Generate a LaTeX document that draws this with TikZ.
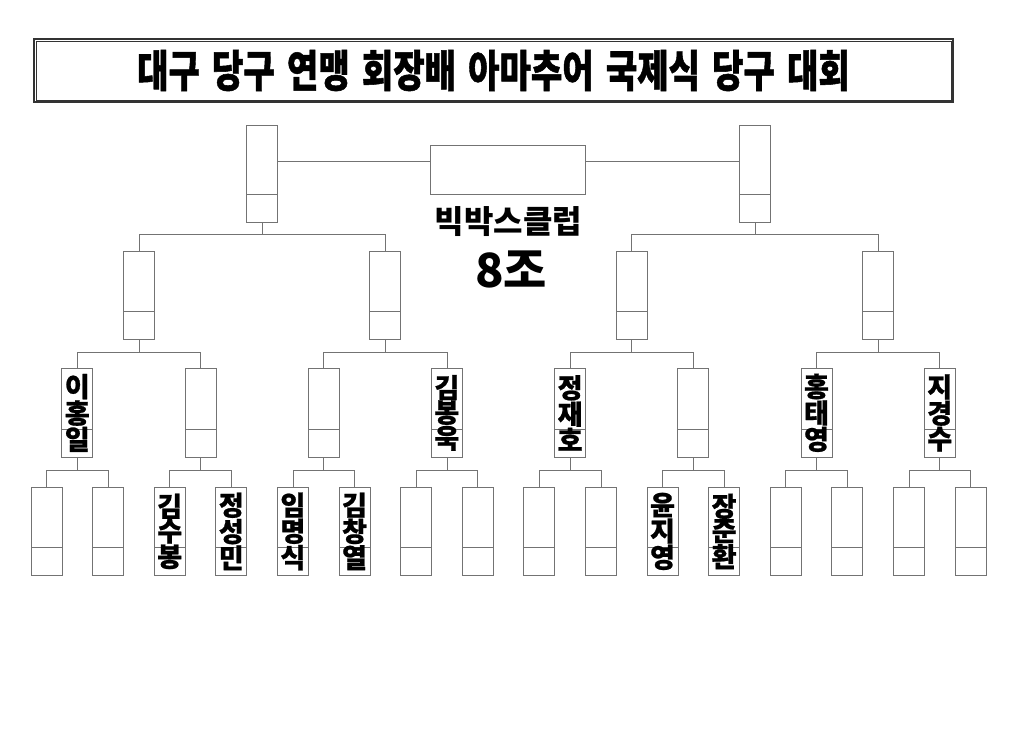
\documentclass[tikz,border=0pt]{standalone}
\usepackage{graphicx}
\usepackage{fontspec}
\newfontfamily\kofont{Noto Sans CJK KR}
\newfontfamily\kotitle{Noto Sans CJK KR}[FakeBold=1.2]
\newfontfamily\koname{Noto Sans CJK KR}[FakeBold=0.8]
\definecolor{linegray}{gray}{0.45}
\definecolor{framegray}{gray}{0.2}
\tikzset{
    wire/.style={linegray, line width=0.8pt},
    slot/.style={draw=linegray, line width=0.8pt, minimum width=31pt, inner sep=0pt,
        anchor=north, align=center,
        font=\koname\bfseries\fontsize{27}{24.5}\selectfont,
        path picture={\draw[wire] ([yshift=28pt]path picture bounding box.south west)
            -- ([yshift=28pt]path picture bounding box.south east);}},
    slotlow/.style={slot, minimum height=88pt},
    slothigh/.style={slot, minimum height=97pt}
}
\begin{document}
\begin{tikzpicture}[x=1pt, y=-1pt]
        \useasboundingbox (0,0) rectangle (1024,746);

        \node[draw=framegray, line width=2.6pt, minimum width=919pt, minimum height=63pt] (title) at (493.5,70.5)
            {\scalebox{0.775}[1]{\kotitle\bfseries\fontsize{44}{44}\selectfont\spaceskip=15.7pt
            대구 당구 연맹 회장배 아마추어 국제식 당구 대회}};
        \draw[framegray, line width=0.9pt] ([shift={(3.4pt,-3.4pt)}]title.north west)
            rectangle ([shift={(-3pt,3pt)}]title.south east);

        \foreach \i/\nm in {0/{},1/{},2/{김\\수\\봉},3/{정\\성\\민},4/{임\\명\\식},5/{김\\창\\열},
            6/{},7/{},8/{},9/{},10/{윤\\지\\영},11/{장\\준\\환},12/{},13/{},14/{},15/{}} {
            \node[slotlow] (l\i) at ({46.5+61.6*\i},487) {\nm};
        }
        \foreach \i/\nm in {0/{이\\홍\\일},1/{},2/{},3/{김\\봉\\욱},4/{정\\재\\호},5/{},6/{홍\\태\\영},7/{지\\경\\수}} {
            \node[slotlow, minimum height=89pt] (r\i) at ({77.3+123.2*\i},368) {\nm};
        }
        \foreach \i in {0,...,3} {
            \node[slotlow] (q\i) at ({138.9+246.4*\i},251) {};
        }
        \foreach \i in {0,1} {
            \node[slothigh] (s\i) at ({262.1+492.8*\i},125) {};
        }
        \node[draw=linegray, line width=0.8pt, minimum width=155pt, minimum height=49pt] (final) at (507.5,169.5) {};

        \foreach \i in {0,...,7} {
            \pgfmathtruncatemacro\a{2*\i}
            \pgfmathtruncatemacro\b{2*\i+1}
            \draw[wire] (r\i.south) -- ++(0,13) coordinate (m) (l\a.north) |- (m) -| (l\b.north);
        }
        \foreach \i in {0,...,3} {
            \pgfmathtruncatemacro\a{2*\i}
            \pgfmathtruncatemacro\b{2*\i+1}
            \draw[wire] (q\i.south) -- ++(0,13) coordinate (m) (r\a.north) |- (m) -| (r\b.north);
        }
        \foreach \i in {0,1} {
            \pgfmathtruncatemacro\a{2*\i}
            \pgfmathtruncatemacro\b{2*\i+1}
            \draw[wire] (s\i.south) -- ++(0,12) coordinate (m) (q\a.north) |- (m) -| (q\b.north);
        }

        \coordinate (link) at (0,161);
        \draw[wire] (s0.east |- link) -- (final.west |- link);
        \draw[wire] (final.east |- link) -- (s1.west |- link);

        \node[font=\kofont\bfseries\fontsize{32}{32}\selectfont] (club) at (508.5,222) {빅박스클럽};
        \node[font=\kofont\bfseries\fontsize{47}{47}\selectfont] (group) at (511,269.5) {8조};

    \end{tikzpicture}
\end{document}
